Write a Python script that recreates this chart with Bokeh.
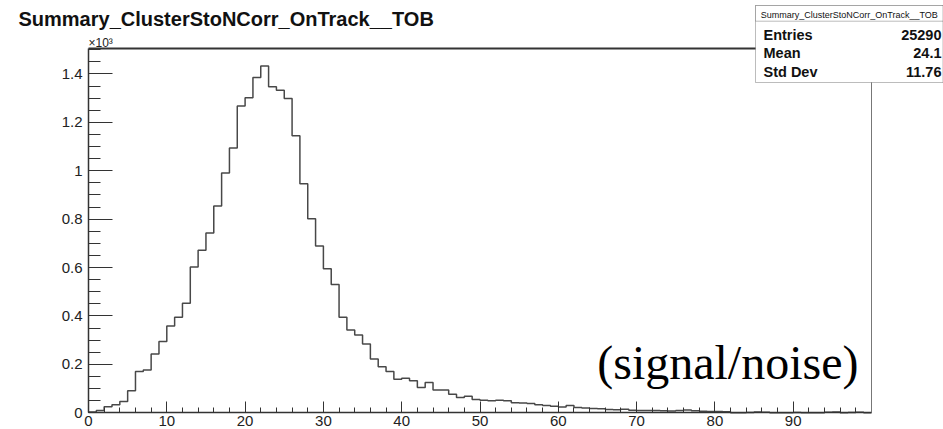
from bokeh.plotting import figure
from bokeh.models import FixedTicker, Label, BoxAnnotation, Range1d, LinearAxis
from bokeh.embed import file_html
from bokeh.resources import INLINE

# ---------------- data ----------------
bin_edges = list(range(0, 101))
counts = [
    3, 10, 25, 33, 47, 91, 171, 177, 243, 295,
    359, 395, 453, 602, 672, 743, 854, 991, 1094, 1267,
    1302, 1385, 1433, 1347, 1333, 1298, 1145, 946, 802, 689,
    595, 530, 395, 342, 321, 284, 222, 190, 171, 139,
    143, 132, 105, 125, 94, 94, 77, 63, 68, 55,
    52, 50, 52, 50, 42, 40, 38, 33, 30, 27,
    24, 30, 22, 20, 18, 17, 14, 13, 15, 11,
    10, 9, 10, 8, 7, 9, 12, 8, 6, 5,
    5, 4, 0, 0, 1, 3, 2, 0, 0, 0,
    1, 0, 0, 0, 2, 3, 0, 1, 2, 0,
]
x_major = [0, 10, 20, 30, 40, 50, 60, 70, 80, 90]
x_minor = list(range(0, 101, 2))
y_major = [0, 200, 400, 600, 800, 1000, 1200, 1400]
y_major_labels = ["0", "0.2", "0.4", "0.6", "0.8", "1", "1.2", "1.4"]
y_minor = list(range(0, 1501, 50))
x_lo, x_hi = 0, 100
y_lo, y_hi = 0, 1505

title_text = "Summary_ClusterStoNCorr_OnTrack__TOB"
exponent_text = "\u00d710\u00b3"
stat_header = "Summary_ClusterStoNCorr_OnTrack__TOB"
stat_names = ["Entries", "Mean", "Std Dev"]
stat_values = ["25290", "24.1", "11.76"]
note_text = "(signal/noise)"

# ---------------- layout (pixels) ----------------
W, H = 943, 429
FX0, FX1 = 88, 871          # histogram frame left/right
FY0, FY1 = 412.3, 48        # histogram frame bottom/top (from page top)
sx_per = (FX1 - FX0) / (x_hi - x_lo)
sy_per = (FY0 - FY1) / (y_hi - y_lo)
x_start = x_lo - FX0 / sx_per
x_end = x_hi + (W - FX1) / sx_per
y_start = y_lo - (H - FY0) / sy_per
y_end = y_hi + FY1 / sy_per
BASE_SHIFT = 0.34           # rendered baseline sits this many em below the anchor


def sy(top_px, font_px=0.0):
    """screen y (from bottom) for a wanted baseline at top_px from the page top"""
    return H - (top_px - BASE_SHIFT * font_px)


SANS = "Liberation Sans"
INK = "#222222"
AX = "#333333"

p = figure(width=W, height=H, title=None, output_backend="svg", toolbar_location=None,
           x_range=Range1d(x_start, x_end), y_range=Range1d(y_start, y_end),
           min_border=0, min_border_left=0, min_border_right=0,
           min_border_top=0, min_border_bottom=0)
p.background_fill_color = "white"
p.border_fill_color = "white"
p.outline_line_color = None
p.xgrid.visible = False
p.ygrid.visible = False

xa = p.xaxis[0]
xa.fixed_location = y_lo
xa.bounds = (x_lo, x_hi)
xa.ticker = FixedTicker(ticks=x_major, minor_ticks=x_minor)
xa.major_tick_in = 11
xa.major_tick_out = 0
xa.minor_tick_in = 5
xa.minor_tick_out = 0
xa.major_label_standoff = 3
xa.axis_line_color = AX
xa.axis_line_width = 1.5
xa.major_tick_line_color = AX
xa.minor_tick_line_color = AX
xa.major_label_text_font = SANS
xa.major_label_text_font_size = "15px"
xa.major_label_text_color = INK

ya = p.yaxis[0]
ya.fixed_location = x_lo
ya.bounds = (y_lo, y_hi)
ya.ticker = FixedTicker(ticks=y_major, minor_ticks=y_minor)
ya.major_label_overrides = {t: l for t, l in zip(y_major, y_major_labels)}
ya.major_tick_in = 24
ya.major_tick_out = 0
ya.minor_tick_in = 12
ya.minor_tick_out = 0
ya.major_label_standoff = 6
ya.axis_line_color = AX
ya.axis_line_width = 1.5
ya.major_tick_line_color = AX
ya.minor_tick_line_color = AX
ya.major_label_text_font = SANS
ya.major_label_text_font_size = "15px"
ya.major_label_text_color = INK

# frame top and right edges as bare axes
top_ax = LinearAxis(fixed_location=y_hi, bounds=(x_lo, x_hi), ticker=FixedTicker(ticks=[]),
                    major_tick_in=0, major_tick_out=0, minor_tick_in=0, minor_tick_out=0,
                    major_label_text_font_size="0px", axis_line_color=AX, axis_line_width=2)
p.add_layout(top_ax, "above")
right_ax = LinearAxis(fixed_location=x_hi, bounds=(y_lo, y_hi), ticker=FixedTicker(ticks=[]),
                      major_tick_in=0, major_tick_out=0, minor_tick_in=0, minor_tick_out=0,
                      major_label_text_font_size="0px", axis_line_color="#777777", axis_line_width=1)
p.add_layout(right_ax, "right")

# histogram outline
p.step(x=bin_edges, y=counts + [counts[-1]], mode="after",
       line_color="#484848", line_width=1.5)

# title & exponent
p.add_layout(Label(x=18, y=sy(25, 20), x_units="screen", y_units="screen", text=title_text,
                   text_font=SANS, text_font_style="bold", text_font_size="20px",
                   text_color="#111111", text_baseline="alphabetic", text_align="left"))
p.add_layout(Label(x=88, y=sy(46.5, 12), x_units="screen", y_units="screen", text=exponent_text,
                   text_font=SANS, text_font_size="12px",
                   text_color=INK, text_baseline="alphabetic", text_align="left"))

# stats box
bx_l, bx_r = 755, 942.5
bx_t, bx_b = sy(5), sy(82)
hdr_b = sy(20.7)
p.add_layout(BoxAnnotation(left=bx_l, right=bx_r, top=bx_t, bottom=bx_b,
                           left_units="screen", right_units="screen",
                           top_units="screen", bottom_units="screen",
                           fill_color="white", fill_alpha=1.0,
                           line_color="#222222", line_width=1, level="overlay"))
p.add_layout(BoxAnnotation(left=bx_l, right=bx_r, top=bx_t, bottom=hdr_b,
                           left_units="screen", right_units="screen",
                           top_units="screen", bottom_units="screen",
                           fill_color="white", fill_alpha=1.0,
                           line_color="#222222", line_width=1, level="overlay"))
p.add_layout(Label(x=(bx_l + bx_r) / 2, y=sy(18, 9), x_units="screen", y_units="screen",
                   text=stat_header, text_font=SANS, text_font_size="9px",
                   text_color="#111111", text_align="center", text_baseline="alphabetic",
                   level="overlay"))
row_base = [39.5, 57.7, 76]
for name, val, yy in zip(stat_names, stat_values, row_base):
    p.add_layout(Label(x=763, y=sy(yy, 14.5), x_units="screen", y_units="screen", text=name,
                       text_font=SANS, text_font_style="bold", text_font_size="14.5px",
                       text_color="#111111", text_align="left", text_baseline="alphabetic",
                       level="overlay"))
    p.add_layout(Label(x=941, y=sy(yy, 14.5), x_units="screen", y_units="screen", text=val,
                       text_font=SANS, text_font_style="bold", text_font_size="14.5px",
                       text_color="#111111", text_align="right", text_baseline="alphabetic",
                       level="overlay"))

# slide annotation
p.add_layout(Label(x=858, y=sy(378, 48), x_units="screen", y_units="screen",
                   text=note_text, text_font="Liberation Serif", text_font_size="48px",
                   text_color="black", text_align="right", text_baseline="alphabetic"))

open("out.html", "w").write(file_html(p, INLINE))
